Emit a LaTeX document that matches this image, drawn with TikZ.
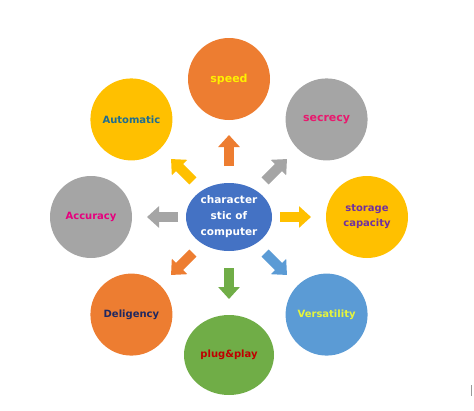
\documentclass[tikz,border=0pt]{standalone}
\usepackage{fontspec}
\setmainfont{DejaVu Sans}
\usetikzlibrary{arrows.meta,shapes.geometric}

\definecolor{orng}{HTML}{ED7D31}
\definecolor{gold}{HTML}{FFC000}
\definecolor{grey}{HTML}{A5A5A5}
\definecolor{royal}{HTML}{4472C4}
\definecolor{sky}{HTML}{5B9BD5}
\definecolor{leaf}{HTML}{70AD47}

\begin{document}
\begin{tikzpicture}[x=1pt, y=1pt,
  hub/.style={ellipse, fill=royal, text=white, align=center, minimum width=86pt, minimum height=68pt, inner sep=0pt,
    font=\fontsize{10.5}{16}\selectfont\bfseries},
  bubble/.style={circle, minimum size=82pt, inner sep=0pt, align=center,
    font=\fontsize{10}{15}\selectfont\bfseries},
  arr/.style={line width=10pt, shorten <=51pt, shorten >=56pt, -{Triangle[width=21pt, length=12pt]}}]
\useasboundingbox (0,0) rectangle (474,-410);
\node[hub] (hub) at (229,-217) {character\\stic of\\computer};
\node[bubble, fill=orng, text={rgb,255:red,255;green,240;blue,0}, font=\fontsize{11}{15}\selectfont\bfseries] (speed) at ([shift={(90:138pt)}]hub) {speed};
\node[bubble, fill=grey, text={rgb,255:red,232;green,25;blue,110}, font=\fontsize{11}{15}\selectfont\bfseries] (secrecy) at ([shift={(45:138pt)}]hub) {secrecy};
\node[bubble, fill=gold, text={rgb,255:red,112;green,48;blue,160}] (storage) at ([shift={(0:138pt)}]hub) {storage\\capacity};
\node[bubble, fill=sky, text={rgb,255:red,230;green,245;blue,60}] (versa) at ([shift={(-45:138pt)}]hub) {Versatility};
\node[bubble, ellipse, minimum width=90pt, minimum height=80pt, fill=leaf, text={rgb,255:red,192;green,0;blue,0}] (plug) at ([shift={(-90:138pt)}]hub) {plug\&play};
\node[bubble, fill=orng, text={rgb,255:red,32;green,40;blue,96}] (dilig) at ([shift={(-135:138pt)}]hub) {Deligency};
\node[bubble, fill=grey, text={rgb,255:red,230;green,0;blue,126}] (accur) at ([shift={(180:138pt)}]hub) {Accuracy};
\node[bubble, fill=gold, text={rgb,255:red,31;green,110;blue,145}] (auto) at ([shift={(135:138pt)}]hub) {Automatic};
% block arrows from the hub outwards
\draw[arr, draw=orng] (hub.center) -- (speed.center);
\draw[arr, draw=grey] (hub.center) -- (secrecy.center);
\draw[arr, draw=gold] (hub.center) -- (storage.center);
\draw[arr, draw=sky] (hub.center) -- (versa.center);
\draw[arr, draw=leaf] (hub.center) -- (plug.center);
\draw[arr, draw=orng] (hub.center) -- (dilig.center);
\draw[arr, draw=grey] (hub.center) -- (accur.center);
\draw[arr, draw=gold] (hub.center) -- (auto.center);
\draw[gray!80, line width=1pt] (471,-385) -- (471,-396);
\end{tikzpicture}
\end{document}
